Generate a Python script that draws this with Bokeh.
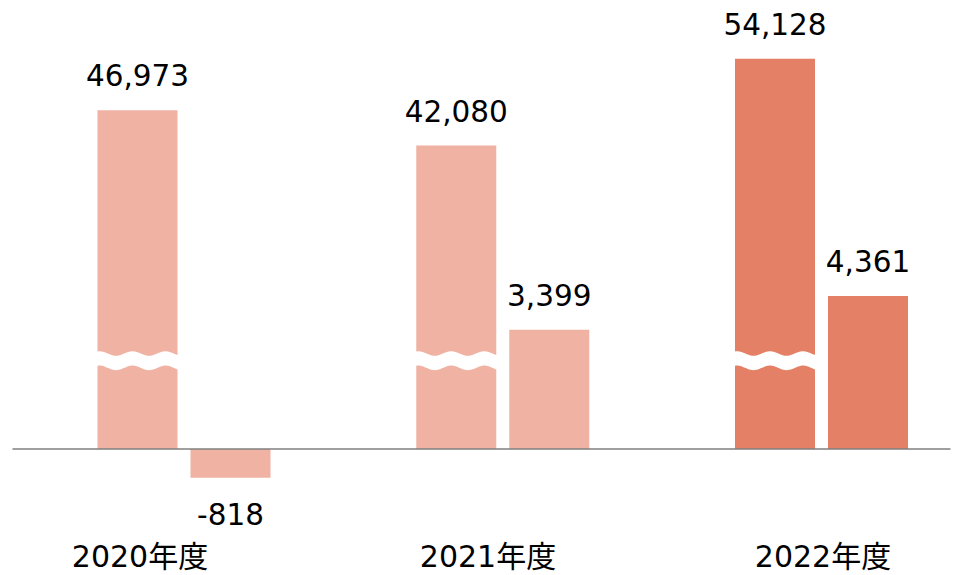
import math
from bokeh.plotting import figure
from bokeh.models import Range1d, ColumnDataSource
from bokeh.core.properties import value
from bokeh.embed import file_html
from bokeh.resources import INLINE

# ---- data ----
years = ["2020年度", "2021年度", "2022年度"]
big_values = [46973, 42080, 54128]      # first bar of each year (drawn with a break)
small_values = [-818, 3399, 4361]       # second bar of each year
bar_colors = ["#F0B2A3", "#F0B2A3", "#E48066"]

# ---- layout constants ----
W, H = 953, 575
UNIT = 318.75            # px per group step
K = 0.0351               # px per value unit (true scale)
BREAK_SCALE = 0.2054     # compression applied to the broken bars
BASE_PX = 448.5          # baseline position from top of plot
OFF = 46.5 / UNIT        # bar offset from group centre
BW = 80 / UNIT           # bar width

x_start = -183.5 / UNIT
x_end = x_start + W / UNIT
y_top = BASE_PX / K
y_bot = -(H - BASE_PX) / K

p = figure(width=W, height=H, output_backend="svg", toolbar_location=None,
           x_range=Range1d(x_start, x_end), y_range=Range1d(y_bot, y_top),
           min_border=0, outline_line_color=None, background_fill_color="white",
           border_fill_color="white")
p.axis.visible = False
p.grid.visible = False

xs = list(range(len(years)))
x_big = [x - OFF for x in xs]
x_small = [x + OFF for x in xs]
big_disp = [v * BREAK_SCALE for v in big_values]

p.vbar(x=x_big, top=big_disp, bottom=0, width=BW, fill_color=bar_colors, line_color=None)
p.vbar(x=x_small, top=small_values, bottom=0, width=BW, fill_color=bar_colors, line_color=None)

# wavy break across the big bars
yc_px = 88.3      # centre of the break above baseline, px
amp_px = 2.3
half_px = 7.2
period = 33.0
wx, wy = [], []
for xb in x_big:
    left = xb - BW / 2
    top_x, top_y, bot_y = [], [], []
    n = 60
    for i in range(n + 1):
        dx = -3 + (86.0 * i / n)
        yoff = amp_px * math.cos(2 * math.pi * (dx - 2) / period)
        top_x.append(left + dx / UNIT)
        top_y.append((yc_px + yoff + half_px) / K)
        bot_y.append((yc_px + yoff - half_px) / K)
    wx.append(top_x + top_x[::-1])
    wy.append(top_y + bot_y[::-1])
p.patches(xs=wx, ys=wy, fill_color="white", line_color=None)

# baseline
p.segment(x0=[x_start + 12 / UNIT], y0=[0], x1=[x_start + 950 / UNIT], y1=[0],
          line_color="#7F7F7F", line_width=1.3)

FONT = value("DejaVu Sans, Noto Sans CJK JP")

# value labels
p.text(x=x_big, y=big_disp, text=[f"{v:,}" for v in big_values], text_font=FONT,
       text_font_size="29.5px", text_align="center", text_baseline="alphabetic",
       y_offset=-35, text_color="#000000")
pos = [(x, v, f"{v:,}") for x, v in zip(x_small, small_values) if v >= 0]
neg = [(x, v, f"{v:,}") for x, v in zip(x_small, small_values) if v < 0]
p.text(x=[a[0] for a in pos], y=[a[1] for a in pos], text=[a[2] for a in pos], text_font=FONT,
       text_font_size="29.5px", text_align="center", text_baseline="alphabetic",
       y_offset=-35, text_color="#000000")
p.text(x=[a[0] for a in neg], y=[a[1] for a in neg], text=[a[2] for a in neg], text_font=FONT,
       text_font_size="29.5px", text_align="center", text_baseline="alphabetic",
       y_offset=36, text_color="#000000")

# category labels
label_dx = [-44, -14.75, 1.5]
cat_src = ColumnDataSource(dict(x=[x + d / UNIT for x, d in zip(xs, label_dx)],
                                y=[0] * len(years), text=years))
p.text(x="x", y="y", text="text", source=cat_src, text_font=FONT,
       text_font_size="30px", text_align="center", text_baseline="alphabetic",
       y_offset=107, text_color="#000000")

open("out.html", "w").write(file_html(p, INLINE))
